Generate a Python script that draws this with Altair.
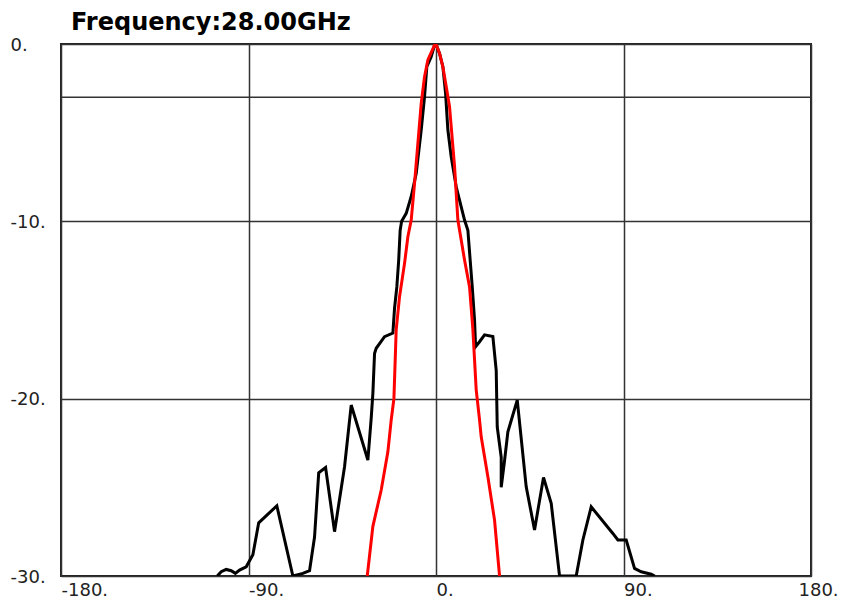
import altair as alt
import pandas as pd

title_text = ["Frequency:28.00GHz"]
x_ticks = [-180, -90, 0, 90, 180]
y_ticks = [0, -10, -20, -30]
extra_grid_db = [-3]

black_angle = [-105, -103.1, -100.7, -98.3, -96.3, -94.3, -91.1, -87.9, -85.1, -76.4,
               -68.7, -63.9, -60.7, -58.3, -56.3, -53.0, -48.7, -43.9, -40.7, -32.7,
               -31.1, -30.3, -29.5, -28.7, -24.7, -20.7, -19.9, -18.8, -17.9, -17.2,
               -16.5, -14.3, -11.9, -9.5, -7.1, -5.5, -4.4, -2.3, -0.7, 0,
               1.7, 3.3, 4.6, 5.7, 7.3, 9.7, 12.1, 13.7, 15.3, 16.4,
               17.4, 18.5, 19.0, 20.9, 23.3, 27.3, 28.9, 29.4, 31.3, 31.3,
               32.9, 34.5, 39.0, 43.3, 47.3, 51.6, 55.3, 59.3, 67.3, 70.5,
               74.5, 84.9, 87.3, 91.3, 95.3, 98.5, 103.3, 105]
black_db = [-30, -29.76, -29.63, -29.7, -29.85, -29.67, -29.48, -28.8, -27.0, -26.04,
            -30, -29.85, -29.7, -27.8, -24.18, -23.88, -27.5, -23.84, -20.36, -23.46,
            -21.1, -19.7, -17.45, -17.16, -16.5, -16.3, -14.9, -13.7, -12.18, -10.5,
            -10.0, -9.55, -8.6, -7.3, -4.85, -2.97, -1.28, -0.72, -0.06, 0,
            -0.53, -1.28, -2.78, -4.85, -6.36, -8.05, -9.18, -9.93, -10.5, -12.18,
            -13.7, -15.57, -17.07, -16.79, -16.4, -16.5, -18.4, -21.6, -23.3, -25.0,
            -23.5, -21.87, -20.08, -24.97, -27.4, -24.44, -25.9, -30, -30, -27.97,
            -26.1, -27.6, -27.97, -27.97, -29.57, -29.76, -29.9, -30]

red_angle = [-33.0, -30.3, -26.3, -23.1, -21.5, -20.2, -19.1, -17.5, -15.1, -13.5,
             -11.9, -10.3, -7.1, -5.5, -3.9, -0.7, 0,
             1.7, 3.3, 4.9, 6.5, 8.9, 10.5, 13.7, 16.1, 17.7, 19.3,
             20.9, 21.7, 24.9, 28.1, 30.5]
red_db = [-30, -27.2, -25.15, -23.0, -21.2, -20.0, -16.1, -14.25, -12.37, -10.87,
          -9.93, -7.86, -3.35, -1.84, -0.9, -0.06, 0,
          -0.53, -1.28, -2.4, -3.53, -6.9, -9.93, -12.18, -13.7, -16.1, -19.5,
          -21.2, -22.15, -24.4, -26.85, -30]

black = pd.DataFrame({"angle": black_angle, "db": black_db, "i": range(len(black_angle))})
red = pd.DataFrame({"angle": red_angle, "db": red_db, "i": range(len(red_angle))})
grid = pd.DataFrame({"db": extra_grid_db})
title_df = pd.DataFrame({"t": title_text})

x_enc = alt.X("angle:Q",
              scale=alt.Scale(domain=[-180, 180], nice=False, zero=False),
              axis=alt.Axis(values=x_ticks, labelExpr="datum.value + '.'", title=None,
                            labelAlign="left", labelBaseline="top", labelPadding=5,
                            labelOffset=alt.condition("datum.value == 180", alt.value(-13), alt.value(0))))
y_enc = alt.Y("db:Q",
              scale=alt.Scale(domain=[-30, 0], nice=False, zero=False),
              axis=alt.Axis(values=y_ticks, labelExpr="datum.value + '.'", title=None,
                            labelAlign="left", labelBaseline="middle", labelPadding=51,
                            labelOffset=1))

rules = alt.Chart(grid).mark_rule(color="#333", strokeWidth=1.5).encode(y=y_enc)

black_line = alt.Chart(black).mark_line(color="black", strokeWidth=3, clip=True).encode(
    x=x_enc, y=y_enc, order="i:Q")
red_line = alt.Chart(red).mark_line(color="#ff0000", strokeWidth=3, clip=True).encode(
    x=x_enc, y=y_enc, order="i:Q")

title_mark = alt.Chart(title_df).mark_text(
    align="left", baseline="alphabetic", font="DejaVu Sans", fontSize=24,
    fontWeight="bold", color="black"
).encode(text="t:N", x=alt.value(10), y=alt.value(-14))

chart = alt.layer(rules, black_line, red_line, title_mark).properties(
    width=750, height=532,
    autosize=alt.AutoSizeParams(type="none"),
    padding={"left": 53, "top": 36, "right": 29, "bottom": 26},
).configure_view(
    stroke="#222", strokeWidth=2
).configure_axis(
    grid=True, gridColor="#333", gridWidth=1.5, gridOpacity=1,
    domain=False, ticks=False, tickSize=0,
    labelFont="DejaVu Sans", labelFontSize=18, labelColor="#222"
)

chart.save("out.html", embed_options={"renderer": "svg", "actions": False})
